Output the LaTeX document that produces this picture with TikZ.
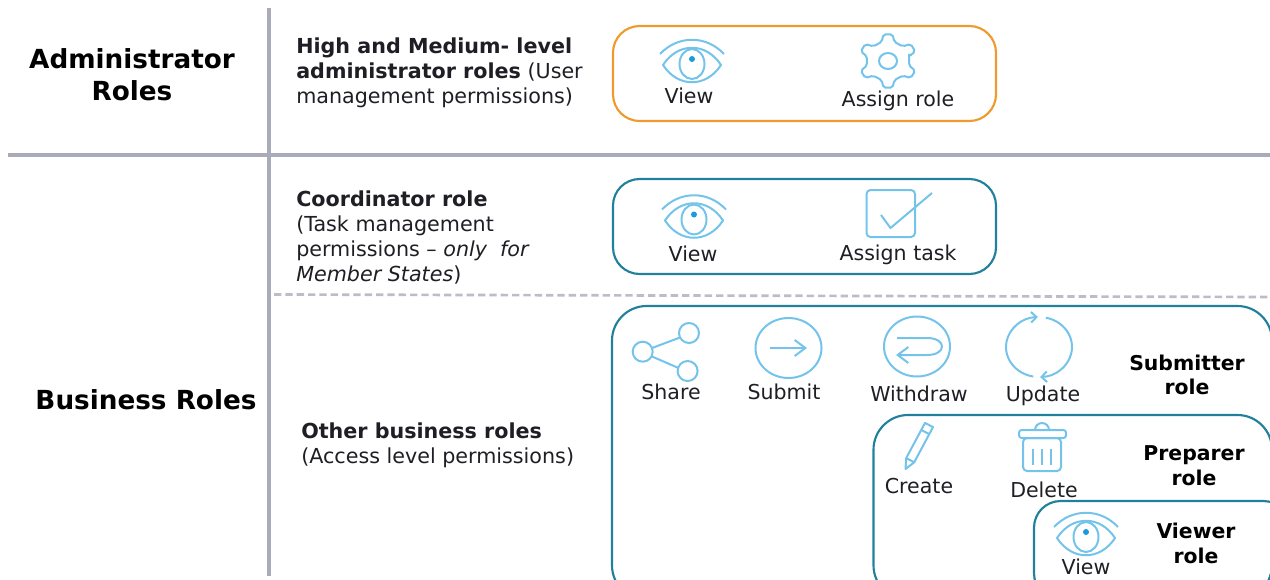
\documentclass[tikz,border=0pt]{standalone}
\usepackage{fontspec}
\setmainfont{DejaVu Sans}
\usetikzlibrary{arrows.meta}
\definecolor{rulegray}{HTML}{A9ABB8}
\definecolor{dashgray}{HTML}{BBBDC8}
\definecolor{adminorange}{HTML}{EF9A2C}
\definecolor{roleteal}{HTML}{21809C}
\definecolor{iconblue}{HTML}{74C3EA}
\definecolor{pupilblue}{HTML}{1C9BDC}
\definecolor{labeltext}{HTML}{1E1E24}
\tikzset{
  rolebox/.style={draw=roleteal,line width=1.6pt,rounded corners=20},
  iconline/.style={draw=iconblue,line width=1.5pt,line join=round},
  iconarrow/.style={iconline,-{Straight Barb[length=8pt,width=12pt]}},
  turnarrow/.style={iconline,-{Straight Barb[length=4pt,width=8pt]}},
  headtext/.style={font=\fontsize{19.7}{24}\selectfont\bfseries,align=center,text=black},
  sidetext/.style={anchor=west,inner sep=0pt,font=\fontsize{15.5}{18.9}\selectfont,align=left,text=labeltext},
  itemtext/.style={font=\fontsize{15.4}{18}\selectfont,text=labeltext},
  namebold/.style={font=\fontsize{15.3}{18.4}\selectfont\bfseries,align=center,text=black},
  eye/.pic={
    \draw[iconline] (-32,-11) .. controls (-14,-30) and (14,-30) .. (32,-11);
    \draw[iconline] (-29,0) .. controls (-14,-23) and (14,-23) .. (29,0)
      .. controls (14,23) and (-14,23) .. cycle;
    \draw[iconline] (0,-1) ellipse [x radius=12.5,y radius=15];
    \fill[pupilblue] (0,-6) circle [radius=3];
  }
}
\begin{document}
\begin{tikzpicture}[
        x=0.75pt,
        y=-0.75pt]

\useasboundingbox (0,0) rectangle (1270,579);
\clip (0,0) rectangle (1270,579);

%Trennlinien
\draw[rulegray,line width=2.6pt] (269,8)--(269,576);
\draw[rulegray,line width=3pt] (8,155)--(1270,155);
\draw[dashgray,line width=2pt,dash pattern=on 5.5pt off 3pt] (274,294.5)--(1270,297);

%Linke Spalte
\node[headtext] (adminhead) at (132,75) {Administrator\\Roles};
\node[headtext] (businesshead) at (146,400) {Business Roles};

%Beschreibungen
\node[sidetext] (adminside) at (296,73) {\textbf{High and Medium- level}\\\textbf{administrator roles} (User\\management permissions)};
\node[sidetext] (coordside) at (296,237.5) {\textbf{Coordinator role}\\(Task management\\permissions -- \textit{only\ \ for}\\\textit{Member States})};
\node[sidetext] (otherside) at (301,445) {\textbf{Other business roles}\\(Access level permissions)};

%Rahmen
\draw[rolebox,draw=adminorange] (613,26) rectangle (996,121);
\draw[rolebox] (613,179) rectangle (996,274);
\draw[rolebox,rounded corners=26] (612,306) rectangle (1272,600);
\draw[rolebox,rounded corners=26] (873.5,415) rectangle (1272,600);
\draw[rolebox] (1034,501) rectangle (1290,600);

%Administrator
\pic at (692,65) {eye};
\node[itemtext] (adminview) at (689,96) {View};
\draw[iconline,rounded corners=1.5] ({888+1.08*20*cos(13)},{61-20*sin(13)})
  \foreach \a in {30,90,150,210,270,330} {
    -- ({888+1.08*20*cos(\a-17)},{61-20*sin(\a-17)})
    -- ({888+1.08*27*cos(\a-9)},{61-27*sin(\a-9)})
    -- ({888+1.08*27*cos(\a+9)},{61-27*sin(\a+9)})
    -- ({888+1.08*20*cos(\a+17)},{61-20*sin(\a+17)})
  } -- cycle;
\draw[iconline] (888,61) ellipse [x radius=9,y radius=8];
\node[itemtext] (adminassign) at (898,101) {Assign role};

%Koordinator
\pic at (694,220.5) {eye};
\node[itemtext] (coordview) at (693,254) {View};
\draw[iconline,rounded corners=3] (866.5,190) rectangle (915,237);
\draw[iconline] (881,215)--(890.5,228)--(932,193);
\node[itemtext] (coordassign) at (898,255) {Assign task};

%Submitter
\draw[iconline] (642.7,351.7) circle [radius=10];
\draw[iconline] (689,333) circle [radius=10];
\draw[iconline] (687.6,371) circle [radius=10];
\draw[iconline] (652,348)--(680,337.5);
\draw[iconline] (652,356.5)--(678.5,368);
\node[itemtext] (sharetext) at (671,392) {Share};

\draw[iconline] (788.5,348) ellipse [x radius=33,y radius=30];
\draw[iconarrow] (770,348)--(807,348);
\node[itemtext] (submittext) at (784,392) {Submit};

\draw[iconline] (917,346.5) ellipse [x radius=33,y radius=30];
\draw[iconarrow] (897,338)--(927,338) .. controls (947,338) and (947,355) .. (927,355)--(896,355);
\node[itemtext] (withdrawtext) at (919,394) {Withdraw};

\draw[turnarrow] (1039,347) ++(100:33 and 30) arc [start angle=100,end angle=268,x radius=33,y radius=30];
\draw[turnarrow] (1039,347) ++(-78:33 and 30) arc [start angle=-78,end angle=88,x radius=33,y radius=30];
\node[itemtext] (updatetext) at (1043,396) {Update};
\node[namebold] (submittername) at (1187,375) {Submitter\\role};

%Preparer
\draw[iconline] (905.5,469)--(906.2,458.1)--(925,422.9)--(933,427.1)--(914.2,462.3)--cycle;
\draw[iconline] (921.2,429.9)--(929.2,434.1);
\draw[iconline] (906.2,458.1)--(914.2,462.3);
\node[itemtext] (createtext) at (919,486) {Create};

\draw[iconline] (1035,430) arc [start angle=180,end angle=360,x radius=7,y radius=7];
\draw[iconline,rounded corners=2] (1019,430) rectangle (1066,438);
\draw[iconline,rounded corners=3] (1023,438) rectangle (1061,471);
\draw[iconline] (1032.5,449)--(1032.5,465);
\draw[iconline] (1041.5,449)--(1041.5,465);
\draw[iconline] (1051,449)--(1051,465);
\node[itemtext] (deletetext) at (1044,490) {Delete};
\node[namebold] (preparername) at (1194,465.5) {Preparer\\role};

%Viewer
\pic at (1086,538) {eye};
\node[itemtext] (viewertext) at (1086,567) {View};
\node[namebold] (viewername) at (1196,543.5) {Viewer\\role};

\end{tikzpicture}
\end{document}
